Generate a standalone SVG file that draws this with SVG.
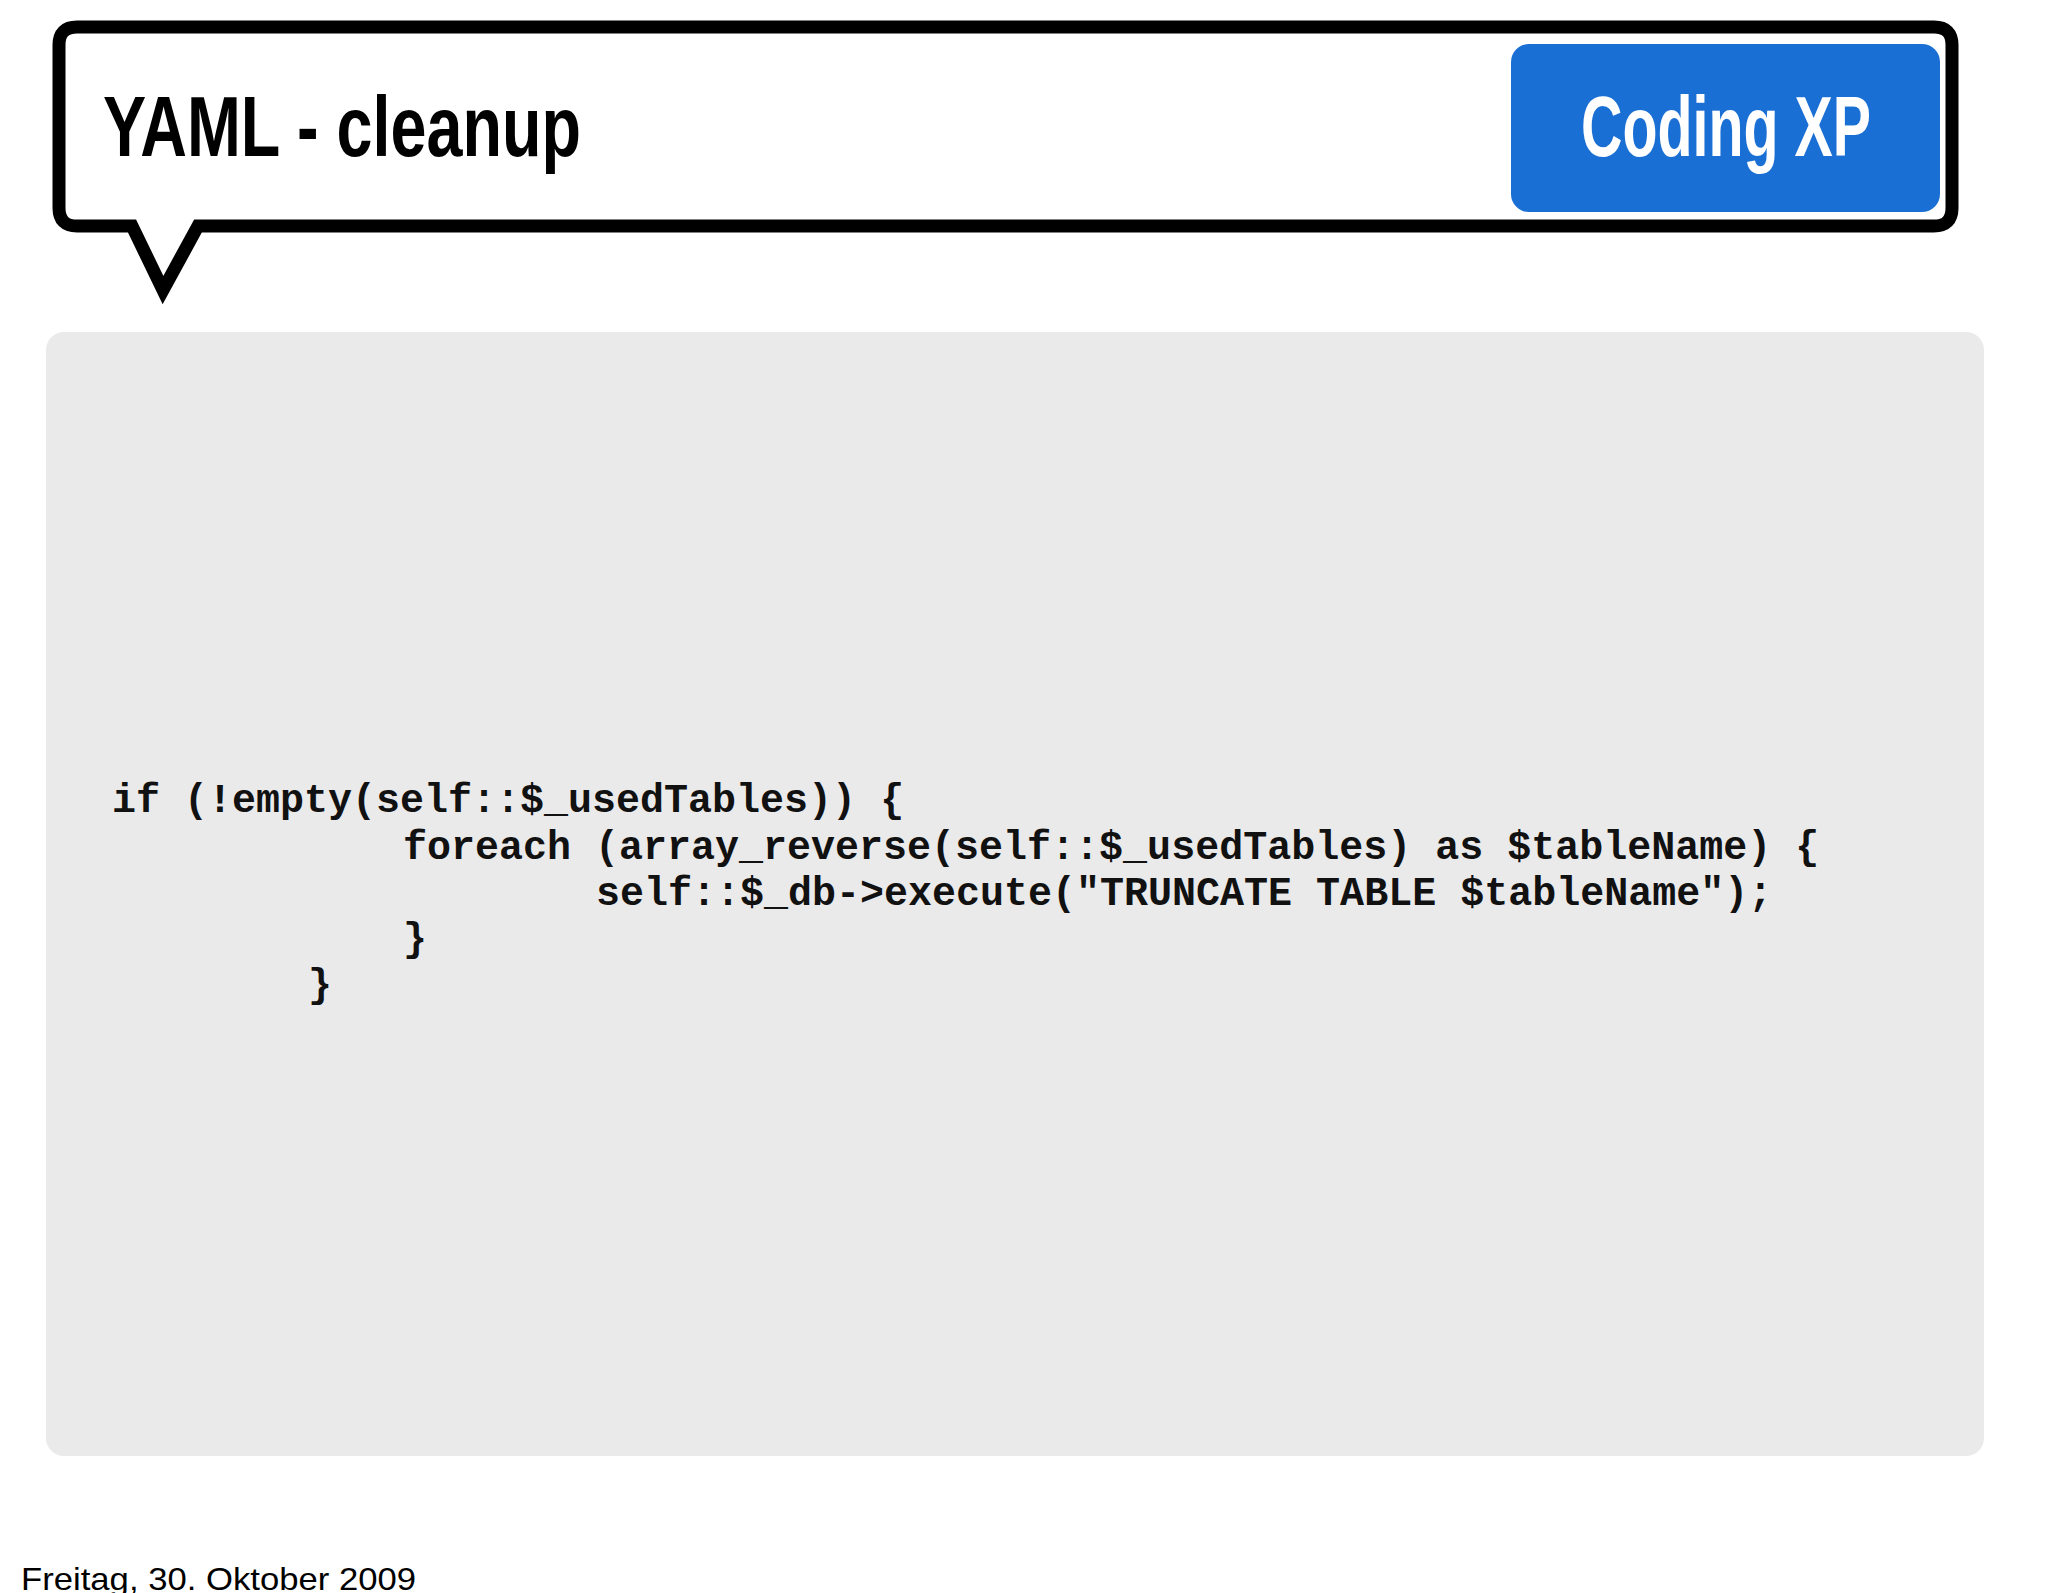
<svg xmlns="http://www.w3.org/2000/svg" width="2048" height="1593" viewBox="0 0 2048 1593">
<style>
.code{font-family:"Liberation Mono","Courier New",monospace;font-weight:bold;font-size:40px;fill:#111;white-space:pre}
.head{font-family:"Liberation Sans Narrow","Liberation Sans",Arial,sans-serif;font-weight:bold;font-size:86px}
</style>
<rect width="2048" height="1593" fill="#fff"/>
<g id="bubble">
<path d="M77,27 H1934 Q1952,27 1952,45 V208 Q1952,226 1934,226 H198 L163,290 L132,226 H77 Q59,226 59,208 V45 Q59,27 77,27 Z" fill="#fff" stroke="#000" stroke-width="13" stroke-linejoin="miter"/>
<text class="head" x="103" y="156" fill="#000" textLength="478" lengthAdjust="spacingAndGlyphs">YAML - cleanup</text>
</g>
<g id="badge">
<rect x="1511" y="44" width="429" height="168" rx="18" fill="#1a6fd4"/>
<text class="head" x="1581" y="156" fill="#fff" textLength="290" lengthAdjust="spacingAndGlyphs">Coding XP</text>
</g>
<g id="code">
<rect x="46" y="332" width="1938" height="1124" rx="18" fill="#eaeaeb"/>
<text class="code" x="112" y="812">if (!empty(self::$_usedTables)) {</text>
<text class="code" x="403" y="859">foreach (array_reverse(self::$_usedTables) as $tableName) {</text>
<text class="code" x="596" y="905">self::$_db-&gt;execute("TRUNCATE TABLE $tableName");</text>
<text class="code" x="403" y="951">}</text>
<text class="code" x="308" y="997">}</text>
</g>
<g id="connectors"/>
<text x="21" y="1590" font-family="Liberation Sans,Arial,sans-serif" font-size="32" fill="#000" textLength="395" lengthAdjust="spacingAndGlyphs">Freitag, 30. Oktober 2009</text>
</svg>
